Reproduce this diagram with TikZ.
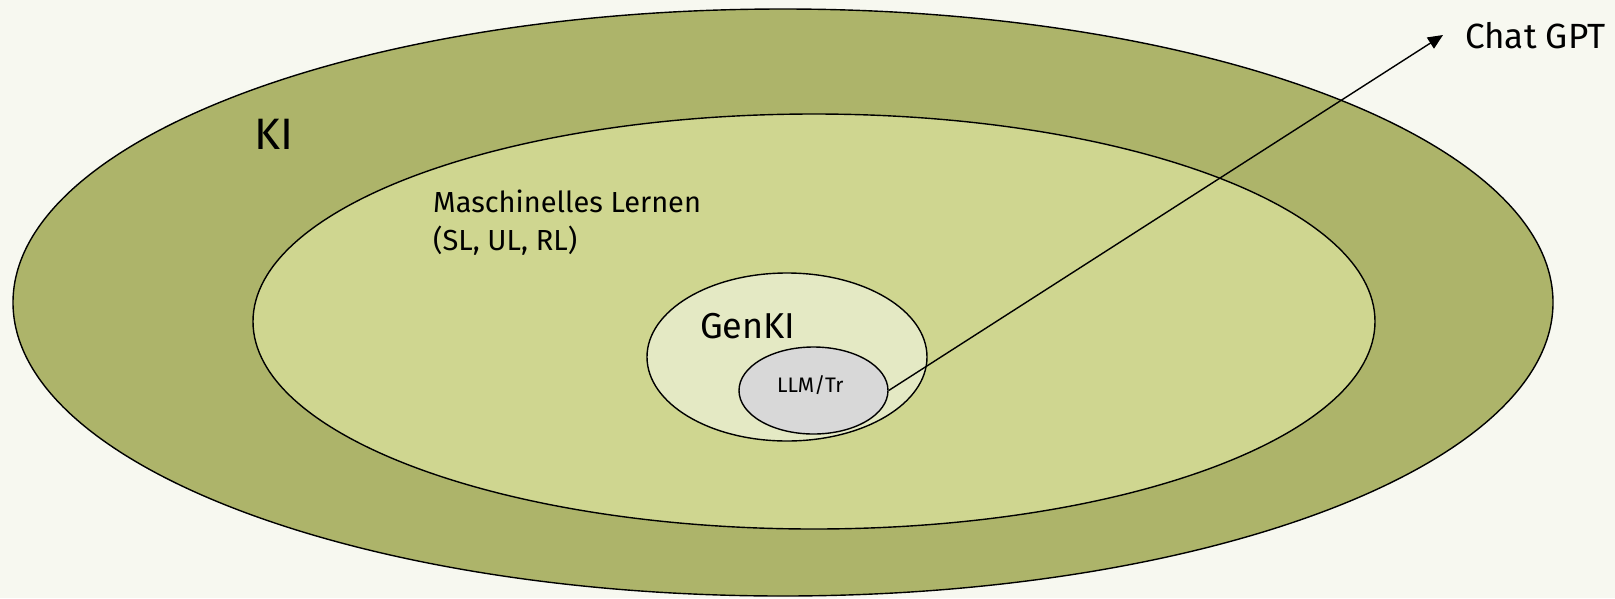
\documentclass[tikz,border=0pt]{standalone}
\usepackage{fontspec}
\setmainfont{Fira Sans}
\usetikzlibrary{shapes.geometric, arrows.meta, positioning}
\definecolor{paper}{HTML}{F7F8F0}
\definecolor{kigreen}{HTML}{ADB46A}
\definecolor{mlgreen}{HTML}{CFD690}
\definecolor{genlight}{HTML}{E4E9C4}
\definecolor{llmgray}{HTML}{D8D8D8}
\tikzset{
  set/.style={ellipse, draw, line width=1.4pt, inner sep=0pt},
  lbl/.style={anchor=base west, inner sep=0pt},
}
\newcommand{\fs}[1]{\fontsize{#1}{1.2\dimexpr#1pt\relax}\selectfont}

\begin{document}
\begin{tikzpicture}[x=1pt,y=-1pt,>={Triangle[length=15pt,width=13pt]}]
\fill[paper] (0,0) rectangle (1615,598);
\useasboundingbox (0,0) rectangle (1615,598);
\node[set, fill=kigreen, minimum width=1540pt, minimum height=587pt](KI) at (783,302.5){};
\node[set, fill=mlgreen, minimum width=1122pt, minimum height=415pt](ML) at (814,321.5){};
\node[set, fill=genlight, minimum width=280pt, minimum height=168pt](Gen) at (787,357){};
\node[set, fill=llmgray, minimum width=149pt, minimum height=87pt](LLM) at (813.5,390.5){};
\node[lbl](tKI) at (254,149){\fs{44}KI};
\node[lbl](tML) at (433,212){\fs{29}Maschinelles Lernen};
\node[lbl](tML2) at (433,250){\fs{29}(SL, UL, RL)};
\node[lbl](tGen) at (700,338){\fs{36}GenKI};
\node[lbl](tLLM) at (777,392){\fs{21}LLM/Tr};
\node[lbl](GPT) at (1465,48){\fs{35}Chat GPT};
\coordinate (tip) at (1443,35);
\draw[->, line width=1.4pt](LLM.east)--(tip);
\end{tikzpicture}
\end{document}
